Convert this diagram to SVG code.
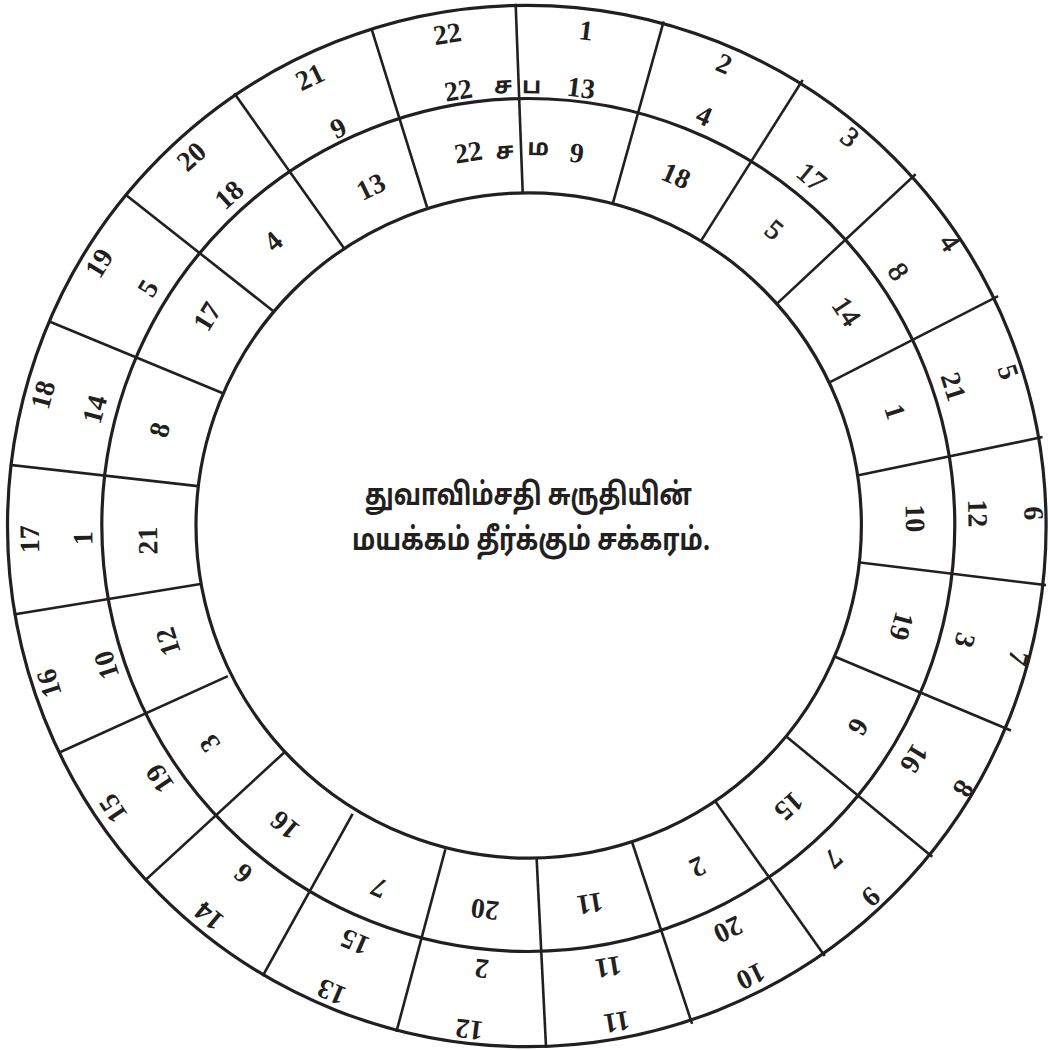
<svg xmlns="http://www.w3.org/2000/svg" width="1048" height="1050" viewBox="0 0 1048 1050">
<style>
.c{fill:none;stroke:#231f20;stroke-width:3.2}
.s{stroke:#231f20;stroke-width:2.6;stroke-linecap:square}
.n{font-family:'Liberation Serif','Times New Roman',serif;font-weight:bold;font-size:28px;fill:#231f20;text-anchor:middle}
.l{font-weight:normal;stroke:#231f20;stroke-width:0.7}
.t{font-family:'Noto Sans Tamil','Lohit Tamil','Noto Sans',sans-serif;font-weight:bold;font-size:23px;fill:#231f20;text-anchor:middle}
.h{font-family:'Noto Sans Tamil','Lohit Tamil','Noto Sans',sans-serif;font-weight:bold;font-size:31px;fill:#231f20;text-anchor:middle}
</style>
<rect width="1048" height="1050" fill="#fff"/>
<g id="circles">
<ellipse class="c" cx="526.8" cy="526" rx="519.3" ry="520.7"/>
<circle class="c" cx="528.3" cy="525" r="426.5"/>
<circle class="c" cx="528.7" cy="525.5" r="332.7"/>
</g>
<g id="spokes">
<line class="s" x1="515.7" y1="5" x2="522.7" y2="192.7"/>
<line class="s" x1="663.3" y1="22.7" x2="613.3" y2="201.7"/>
<line class="s" x1="802" y1="81" x2="702" y2="239.3"/>
<line class="s" x1="914.7" y1="175" x2="778" y2="302.7"/>
<line class="s" x1="997" y1="296.7" x2="830.7" y2="381.7"/>
<line class="s" x1="1041.3" y1="437.3" x2="859.7" y2="475"/>
<line class="s" x1="1044.7" y1="585" x2="861.3" y2="562.7"/>
<line class="s" x1="1009.7" y1="730" x2="836.3" y2="657.3"/>
<line class="s" x1="931.3" y1="856" x2="787.3" y2="737.3"/>
<line class="s" x1="824" y1="955" x2="716.3" y2="802.7"/>
<line class="s" x1="691.7" y1="1022.7" x2="632.7" y2="844"/>
<line class="s" x1="546" y1="1046.7" x2="536.7" y2="860"/>
<line class="s" x1="396.7" y1="1030.7" x2="445" y2="850.7"/>
<line class="s" x1="263.3" y1="975" x2="352" y2="815"/>
<line class="s" x1="146.7" y1="879" x2="283.3" y2="753.3"/>
<line class="s" x1="60" y1="752.3" x2="226.7" y2="676.7"/>
<line class="s" x1="15" y1="614.3" x2="199.3" y2="584.3"/>
<line class="s" x1="11.7" y1="465" x2="196.7" y2="486"/>
<line class="s" x1="50" y1="321.7" x2="221.7" y2="392.7"/>
<line class="s" x1="126" y1="195" x2="272.7" y2="310.7"/>
<line class="s" x1="235" y1="94.3" x2="343.3" y2="247.3"/>
<line class="s" x1="371.7" y1="29.3" x2="426.7" y2="206"/>
</g>
<g id="labels">
<text class="n" transform="translate(586 31) rotate(7)" y="9">1</text>
<text class="n" transform="translate(581 88.3) rotate(7)" y="9">13</text>
<text class="n" transform="translate(576.7 153.3) rotate(7)" y="9">9</text>
<text class="n" transform="translate(724 64) rotate(23.4)" y="9">2</text>
<text class="n" transform="translate(704 116) rotate(23.4)" y="9">4</text>
<text class="n" transform="translate(676 176) rotate(23.4)" y="9">18</text>
<text class="n l" transform="translate(849.7 137.3) rotate(39.7)" y="9">3</text>
<text class="n l" transform="translate(811.3 177.3) rotate(39.7)" y="9">17</text>
<text class="n l" transform="translate(774 230) rotate(39.7)" y="9">5</text>
<text class="n l" transform="translate(949.7 242.7) rotate(56.1)" y="9">4</text>
<text class="n l" transform="translate(898 271.7) rotate(56.1)" y="9">8</text>
<text class="n l" transform="translate(846.3 311.7) rotate(56.1)" y="9">14</text>
<text class="n" transform="translate(1008 372) rotate(72.5)" y="9">5</text>
<text class="n" transform="translate(953 386.7) rotate(72.5)" y="9">21</text>
<text class="n" transform="translate(894.7 411.7) rotate(72.5)" y="9">1</text>
<text class="n" transform="translate(1033.5 513.3) rotate(88.8)" y="9">6</text>
<text class="n" transform="translate(977.3 513.3) rotate(88.8)" y="9">12</text>
<text class="n" transform="translate(914.7 518.3) rotate(88.8)" y="9">10</text>
<text class="n" transform="translate(1018 658) rotate(105.2)" y="9">7</text>
<text class="n" transform="translate(964.7 640) rotate(105.2)" y="9">3</text>
<text class="n" transform="translate(901.3 626) rotate(105.2)" y="9">19</text>
<text class="n" transform="translate(963 788.3) rotate(121.5)" y="9">8</text>
<text class="n" transform="translate(914 758.3) rotate(121.5)" y="9">16</text>
<text class="n" transform="translate(858 726.7) rotate(121.5)" y="9">6</text>
<text class="n" transform="translate(870.7 896.7) rotate(137.9)" y="9">9</text>
<text class="n" transform="translate(833 858.3) rotate(137.9)" y="9">7</text>
<text class="n" transform="translate(788.7 806) rotate(137.9)" y="9">15</text>
<text class="n" transform="translate(750.7 976) rotate(154.3)" y="9">10</text>
<text class="n" transform="translate(728 929.3) rotate(154.3)" y="9">20</text>
<text class="n" transform="translate(697.7 866.7) rotate(154.3)" y="9">2</text>
<text class="n" transform="translate(616.7 1021.7) rotate(170.6)" y="9">11</text>
<text class="n" transform="translate(608.3 966.7) rotate(170.6)" y="9">11</text>
<text class="n" transform="translate(590 903.3) rotate(170.6)" y="9">11</text>
<text class="n" transform="translate(469.3 1029.3) rotate(187)" y="9">12</text>
<text class="n" transform="translate(481.7 968.3) rotate(187)" y="9">2</text>
<text class="n" transform="translate(485 909.3) rotate(187)" y="9">20</text>
<text class="n" transform="translate(331.7 991.7) rotate(203.4)" y="9">13</text>
<text class="n" transform="translate(355 941.7) rotate(203.4)" y="9">15</text>
<text class="n" transform="translate(379 887.5) rotate(203.4)" y="9">7</text>
<text class="n" transform="translate(209.3 916) rotate(219.7)" y="9">14</text>
<text class="n" transform="translate(243.3 873.3) rotate(219.7)" y="9">6</text>
<text class="n" transform="translate(285 825) rotate(219.7)" y="9">16</text>
<text class="n" transform="translate(113.3 808.3) rotate(236.1)" y="9">15</text>
<text class="n" transform="translate(160 778.3) rotate(236.1)" y="9">19</text>
<text class="n" transform="translate(210 743.3) rotate(236.1)" y="9">3</text>
<text class="n" transform="translate(49.3 683.3) rotate(252.5)" y="9">16</text>
<text class="n" transform="translate(106.7 665) rotate(252.5)" y="9">10</text>
<text class="n" transform="translate(168.3 641.7) rotate(252.5)" y="9">12</text>
<text class="n" transform="translate(30 539.3) rotate(268.8)" y="9">17</text>
<text class="n" transform="translate(83.3 538.3) rotate(268.8)" y="9">1</text>
<text class="n" transform="translate(148.3 540.7) rotate(268.8)" y="9">21</text>
<text class="n" transform="translate(43.3 395) rotate(285.2)" y="9">18</text>
<text class="n" transform="translate(95 409.3) rotate(285.2)" y="9">14</text>
<text class="n" transform="translate(160 430) rotate(285.2)" y="9">8</text>
<text class="n" transform="translate(99.3 263.3) rotate(301.5)" y="9">19</text>
<text class="n" transform="translate(148.3 288.3) rotate(301.5)" y="9">5</text>
<text class="n" transform="translate(207.3 316.7) rotate(301.5)" y="9">17</text>
<text class="n" transform="translate(191.7 156.7) rotate(317.9)" y="9">20</text>
<text class="n" transform="translate(229.3 195) rotate(317.9)" y="9">18</text>
<text class="n" transform="translate(273.3 241.7) rotate(317.9)" y="9">4</text>
<text class="n" transform="translate(310 77.3) rotate(334.3)" y="9">21</text>
<text class="n" transform="translate(338.3 128.3) rotate(334.3)" y="9">9</text>
<text class="n" transform="translate(371 187) rotate(334.3)" y="9">13</text>
<text class="n" transform="translate(447.3 34) rotate(350.6)" y="9">22</text>
<text class="n" transform="translate(458.3 90.7) rotate(350.6)" y="9">22</text>
<text class="n" transform="translate(468.3 152.7) rotate(350.6)" y="9">22</text>
<text class="t" transform="translate(503.3 87.3) rotate(-3)" y="6">ச</text>
<text class="t" transform="translate(531.7 87.3) rotate(0.6)" y="6">ப</text>
<text class="t" transform="translate(505 152.7) rotate(-3.4)" y="6">ச</text>
<text class="t" transform="translate(538.3 149.3) rotate(1.7)" y="6">ம</text>
</g>
<g id="title">
<text class="h" x="528.5" y="505" textLength="327" lengthAdjust="spacingAndGlyphs">துவாவிம்சதி சுருதியின்</text>
<text class="h" x="531" y="550" textLength="358" lengthAdjust="spacingAndGlyphs">மயக்கம் தீர்க்கும் சக்கரம்.</text>
</g>
</svg>
